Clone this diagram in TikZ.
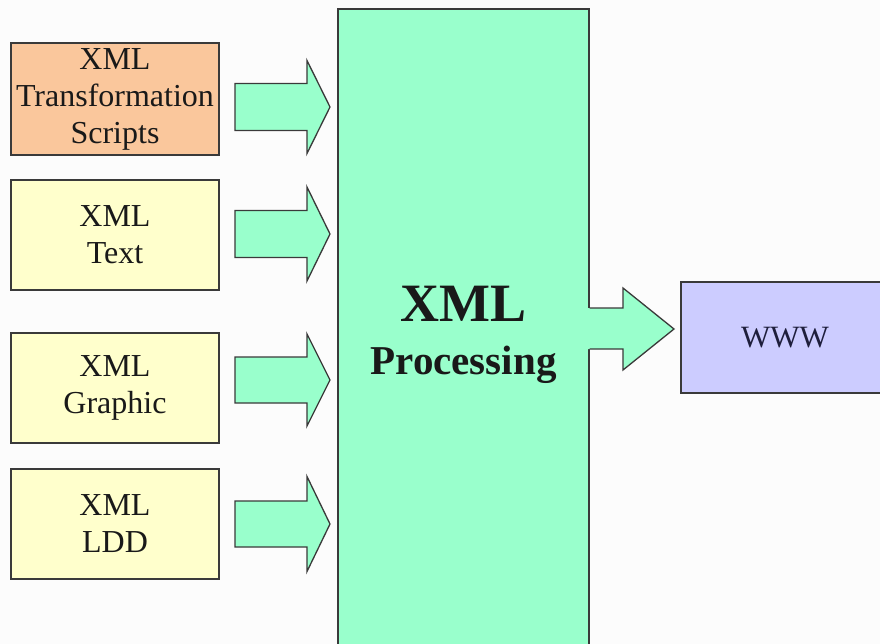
\documentclass[tikz,border=0pt]{standalone}
\usepackage{fontspec}
\setmainfont{Liberation Serif}
\definecolor{pagebg}{HTML}{FCFCFC}
\definecolor{edge}{HTML}{3A3A3A}
\definecolor{peach}{HTML}{FAC79C}
\definecolor{cream}{HTML}{FFFFCC}
\definecolor{mint}{HTML}{99FFCC}
\definecolor{lavender}{HTML}{CCCCFF}
\definecolor{navytext}{HTML}{1E1E3C}

% block arrow: start x, head base x, tip x, centre y, shaft half height, head half height
\newcommand{\flowarrow}[6]{%
  \filldraw[arrowbody] (#1,#4-#5) -- (#2,#4-#5) -- (#2,#4-#6) -- (#3,#4)
    -- (#2,#4+#6) -- (#2,#4+#5) -- (#1,#4+#5) -- cycle;}

\begin{document}
\begin{tikzpicture}[x=1pt,y=-1pt,
  every node/.style={inner sep=0pt},
  boxbase/.style={draw=edge, line width=1.3pt, align=center, text=black!90},
  srcbox/.style={boxbase, minimum width=208pt, minimum height=110pt,
    fill=cream, font=\fontsize{32}{37}\selectfont},
  arrowbody/.style={fill=mint, draw=edge, line width=1.3pt, line join=miter}]
  \clip (0,0) rectangle (880,644);
  \fill[pagebg] (0,0) rectangle (880,644);

  % source documents
  \node[srcbox, fill=peach, minimum height=112pt] (scripts) at (115,99)
    {XML\\Transformation\\Scripts};
  \node[srcbox] (text) at (115,235) {XML\\Text};
  \node[srcbox] (graphic) at (115,388) {XML\\Graphic};
  \node[srcbox] (ldd) at (115,524) {XML\\LDD};

  % processing block
  \node[boxbase, fill=mint, minimum width=251pt, minimum height=651pt,
    font=\fontsize{41}{53}\selectfont\bfseries] (proc) at (463.5,334.5)
    {{\fontsize{54}{53}\selectfont XML}\\Processing};

  % output
  \node[boxbase, fill=lavender, minimum width=208pt, minimum height=111pt,
    text=navytext, font=\fontsize{31}{36}\selectfont] (www) at (785,337.5) {WWW};

  % input arrows
  \flowarrow{235}{307}{330}{107}{23.5}{46.5}
  \flowarrow{235}{307}{330}{234}{23.5}{47}
  \flowarrow{235}{307}{330}{380}{23}{46}
  \flowarrow{235}{307}{330}{524}{23}{47.5}

  % output arrow, open towards the processing block
  \fill[mint] (586,308) -- (623,308) -- (623,288) -- (674,329)
    -- (623,370) -- (623,349) -- (586,349) -- cycle;
  \draw[edge, line width=1.3pt, line join=miter]
    (proc.east |- 0,308) -- (623,308) -- (623,288) -- (674,329)
    -- (623,370) -- (623,349) -- (proc.east |- 0,349);
\end{tikzpicture}
\end{document}
